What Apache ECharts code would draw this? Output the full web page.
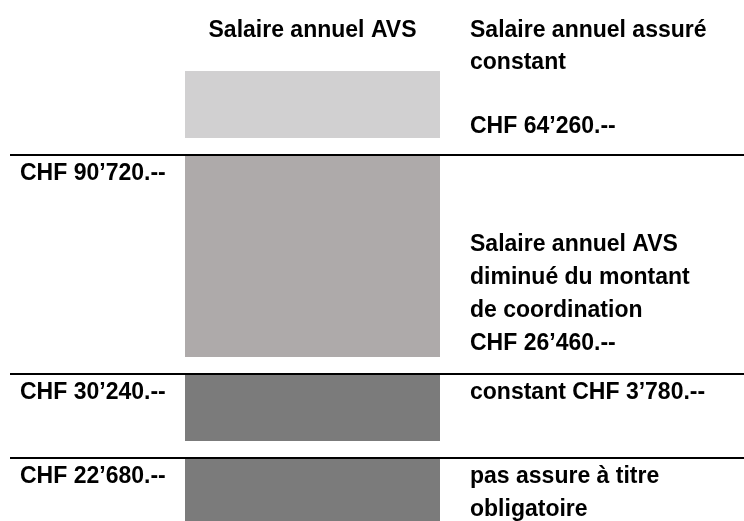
<!DOCTYPE html>
<html>
<head>
<meta charset="utf-8">
<script src="https://cdn.jsdelivr.net/npm/echarts@6/dist/echarts.min.js"></script>
<style>
  html, body { margin: 0; background: #fff; }
  #chart { width: 744px; height: 521px; }
</style>
</head>
<body>
<div id="chart"></div>
<script>
// schematic block heights, bottom to top (drawing is not to CHF scale)
const blockNames = ['pas assuré', 'constant', 'coordonné', 'maximum'];
const blockHeights = [62, 66, 201, 67];
const gapHeight = 18;
const blockColors = ['#7b7b7b', '#7b7b7b', '#aeaaaa', '#d1d0d1'];
const category = 'Salaire annuel AVS';
// boundary amounts, shown at the top of the three lower blocks
const boundaryLabels = ['CHF 22’680.--', 'CHF 30’240.--', 'CHF 90’720.--'];
const rightTexts = [
  'pas assure à titre\nobligatoire',
  'constant CHF 3’780.--',
  'Salaire annuel AVS\ndiminué du montant\nde coordination\nCHF 26’460.--',
  'Salaire annuel assuré\nconstant\n\nCHF 64’260.--'
];

const font = {
  color: '#000',
  fontFamily: 'Liberation Sans, Arial, sans-serif',
  fontWeight: 'bold',
  fontSize: 23
};

const total = blockHeights.reduce((a, b) => a + b, 0) + gapHeight * (blockHeights.length - 1);
const tops = [];
let acc = 0;
blockHeights.forEach((h) => { acc += h; tops.push(acc); acc += gapHeight; });

const series = [];
blockHeights.forEach((h, i) => {
  const atTop = i < 2; // the two dark blocks carry their text at the top
  const isLast = i === blockHeights.length - 1;
  series.push({
    name: blockNames[i],
    type: 'bar',
    stack: 'avs',
    xAxisIndex: 1,
    yAxisIndex: 1,
    barWidth: '100%',
    data: [h],
    itemStyle: { color: blockColors[i] },
    label: Object.assign({
      show: true,
      formatter: rightTexts[i],
      position: atTop ? ['100%', 0] : ['100%', '100%'],
      align: 'left',
      verticalAlign: atTop ? 'top' : 'bottom',
      offset: [30, atTop ? 1 : (isLast ? 5 : 3)],
      lineHeight: isLast ? 32 : 33
    }, font)
  });
  if (!isLast) {
    series.push({
      type: 'bar',
      stack: 'avs',
      xAxisIndex: 1,
      yAxisIndex: 1,
      barWidth: '100%',
      data: [gapHeight],
      silent: true,
      itemStyle: { color: 'transparent' }
    });
  }
});

// full-width separator lines with the boundary amounts
series.push({
  type: 'line',
  xAxisIndex: 0,
  yAxisIndex: 0,
  data: [],
  markLine: {
    symbol: 'none',
    silent: true,
    animation: false,
    lineStyle: { color: '#000', width: 2, type: 'solid' },
    label: Object.assign({
      position: 'insideStartBottom',
      distance: [10, 2],
      formatter: '{b}',
      lineHeight: 33
    }, font),
    data: boundaryLabels.map((name, i) => ({ yAxis: tops[i] + 1, name: name }))
  }
});

const chart = echarts.init(document.getElementById('chart'));
chart.setOption({
  animation: false,
  backgroundColor: '#fff',
  grid: [
    { left: 10, right: 0, top: 71, bottom: 0 },
    { left: 185, width: 255, top: 71, bottom: 0 }
  ],
  xAxis: [
    { type: 'value', gridIndex: 0, show: false, min: 0, max: 1 },
    {
      type: 'category',
      gridIndex: 1,
      position: 'top',
      data: [category],
      axisLine: { show: false },
      axisTick: { show: false },
      axisLabel: Object.assign({ margin: 29 }, font)
    }
  ],
  yAxis: [
    { type: 'value', gridIndex: 0, show: false, min: 0, max: total },
    { type: 'value', gridIndex: 1, show: false, min: 0, max: total }
  ],
  series: series
});
</script>
</body>
</html>
